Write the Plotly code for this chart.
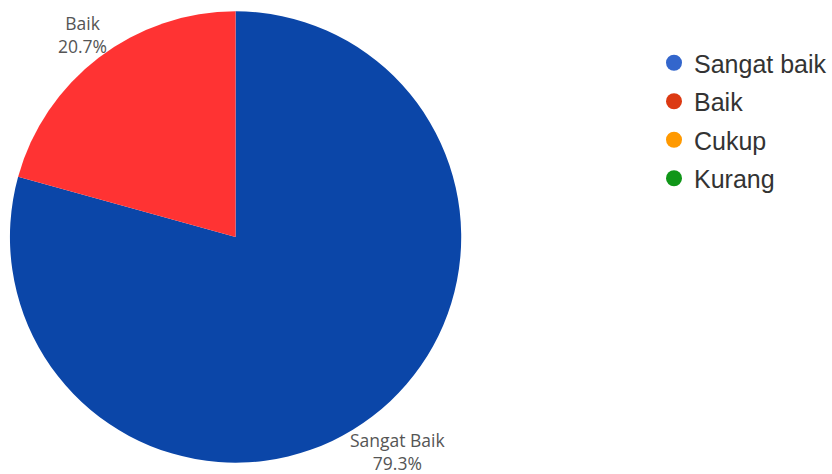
import math
import plotly.graph_objects as go

# Data
slice_labels = ["Sangat Baik", "Baik"]
slice_values = [79.3, 20.7]
slice_colors = ["#0B46A8", "#FF3333"]

legend_labels = ["Sangat baik", "Baik", "Cukup", "Kurang"]
legend_colors = ["#3366CC", "#DC3912", "#FF9900", "#109618"]

W, H = 832, 474
dom_x = [10 / W, 464 / W]
dom_y = [11 / H, 463 / H]
label_size = 17.5

fig = go.Figure()
fig.add_trace(go.Pie(
    labels=slice_labels, values=slice_values,
    marker=dict(colors=slice_colors, line=dict(width=0)),
    sort=False, direction="clockwise", rotation=0,
    textinfo="none", hoverinfo="label+percent",
    showlegend=False,
    domain=dict(x=dom_x, y=dom_y),
))

# outside labels placed at slice mid-angles, text box just touching the pie edge
cx = (dom_x[0] + dom_x[1]) / 2 * W
cy = (dom_y[0] + dom_y[1]) / 2 * H
r = min((dom_x[1] - dom_x[0]) * W, (dom_y[1] - dom_y[0]) * H) / 2
total = sum(slice_values)
cum = 0
for lab, v in zip(slice_labels, slice_values):
    mid = (cum + v / 2) / total * 2 * math.pi
    cum += v
    pct = f"{v / total * 100:.1f}%"
    bw = max(len(lab), len(pct)) * 0.5 * label_size
    bh = 2 * 1.05 * label_size
    ext = abs(math.sin(mid)) * bw / 2 + abs(math.cos(mid)) * bh / 2
    d = r + ext
    px = cx + d * math.sin(mid)
    py = cy + d * math.cos(mid)
    fig.add_annotation(
        x=px / W, y=py / H, xref="paper", yref="paper",
        text=f"{lab}<br>{pct}",
        showarrow=False, xanchor="center", yanchor="middle",
        font=dict(family="Open Sans", size=label_size, color="#555555"),
    )

for i, (lab, col) in enumerate(zip(legend_labels, legend_colors)):
    fig.add_trace(go.Scatter(
        x=[None], y=[None], mode="markers", name=lab,
        legendgroup=f"g{i}",
        marker=dict(symbol="circle", size=18, color=col),
        showlegend=True,
    ))

fig.update_layout(
    width=W, height=H,
    margin=dict(l=0, r=0, t=0, b=0),
    paper_bgcolor="white", plot_bgcolor="white",
    xaxis=dict(visible=False), yaxis=dict(visible=False),
    legend=dict(
        x=658 / W, y=1 - 40 / H, xanchor="left", yanchor="top",
        font=dict(family="Liberation Sans, Arial", size=25, color="#333333"),
        tracegroupgap=3, itemsizing="trace",
        bgcolor="rgba(0,0,0,0)",
    ),
)

fig.write_html("out.html", config={"displayModeBar": False})
with open("out.html", "r", encoding="utf-8") as f:
    html = f.read()
html = html.replace("<body>", '<body style="margin:0;padding:0;">', 1)
with open("out.html", "w", encoding="utf-8") as f:
    f.write(html)
